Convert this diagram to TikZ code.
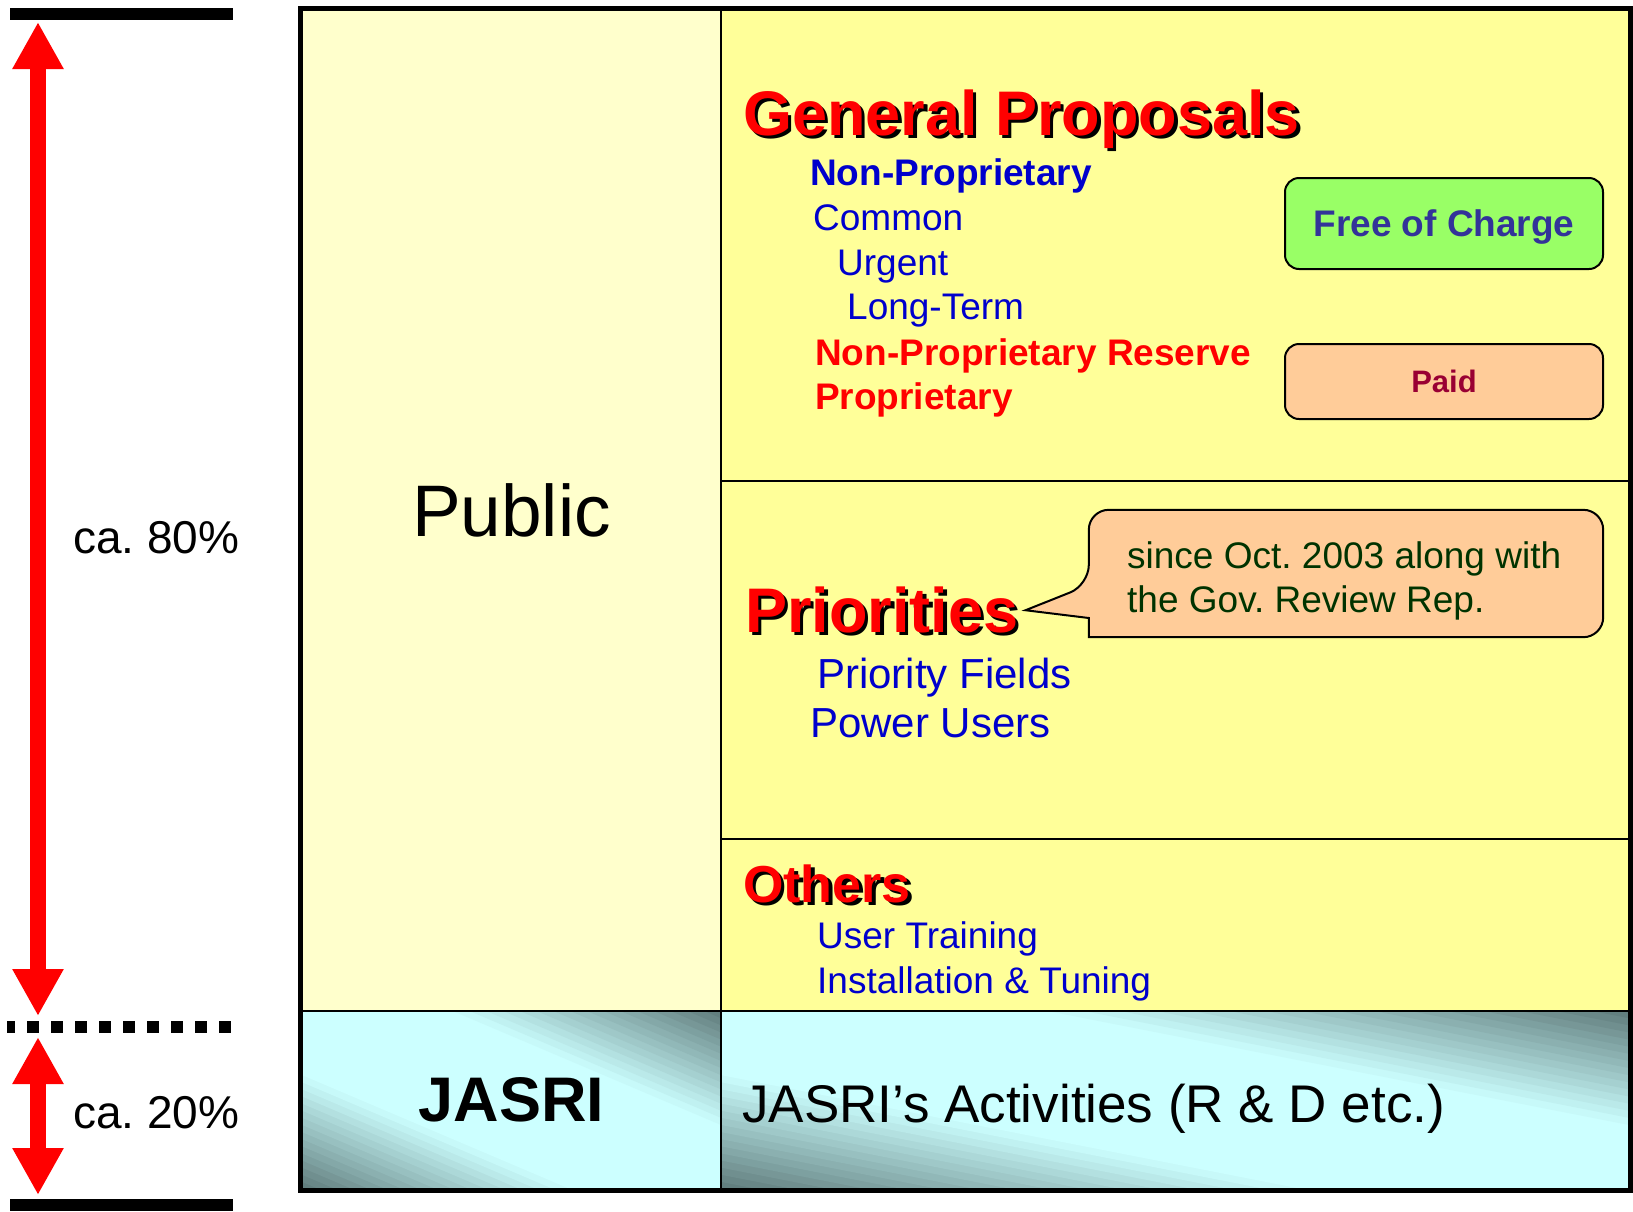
\documentclass[tikz,border=0pt]{standalone}
\usepackage{fontspec}
\setmainfont{Liberation Sans}
\usepackage{xcolor}
\usepackage{tikz}
\usetikzlibrary{arrows.meta, positioning, calc}
\frenchspacing
\definecolor{publicbg}{HTML}{FFFFCC}
\definecolor{userbg}{HTML}{FFFF99}
\definecolor{itemblue}{HTML}{0000CC}
\definecolor{freebg}{HTML}{99FF66}
\definecolor{freetext}{HTML}{333399}
\definecolor{paidbg}{HTML}{FFCC99}
\definecolor{paidtext}{HTML}{990033}
\definecolor{notegreen}{HTML}{003300}
\definecolor{jdark}{HTML}{5F7B7B}
\definecolor{jlight}{HTML}{CCFFFF}
\newcommand{\dropshade}[1]{\makebox[0pt][l]{\hspace{3.5pt}\raisebox{-3.5pt}{\color{black}#1}}#1}
\tikzset{
every node/.style={inner sep=0pt},
fsize/.style={font=\fontsize{#1}{#1}\selectfont},
bfsize/.style={font=\bfseries\fontsize{#1}{#1}\selectfont},
cell/.style={draw=black, line width=2.5, minimum width=#1},
title/.style={anchor=base west, text=red, bfsize=#1},
item/.style={anchor=base west, text=itemblue, fsize=#1},
bitem/.style={anchor=base west, bfsize=37},
tag/.style={draw=black, line width=2, rounded corners=14, minimum width=318, text depth=0pt},
notetxt/.style={anchor=base west, text=notegreen, fsize=37},
callout/.style={draw=black, line width=2, fill=paidbg},
bar/.style={line width=12, black},
share/.style={{Triangle[length=47pt,width=48pt]}-{Triangle[length=47pt,width=48pt]}, red, line width=16},
}

\begin{document}
\begin{tikzpicture}[x=1pt, y=-1pt]
\useasboundingbox (0,0) rectangle (1633,1211);

% table cells
\node[cell=419, minimum height=1001, fill=publicbg, fsize=73] (public) at (511.5,510.5) {Public};
\node[cell=908, minimum height=471, fill=userbg] (general) at (1175,245.5) {};
\node[cell=908, minimum height=358, fill=userbg] (prios) at (1175,660) {};
\node[cell=908, minimum height=172, fill=userbg] (others) at (1175,925) {};
% diagonal gradient of the JASRI row, in strips
\foreach \cx/\w in {511.5/419, 1175/908} {
  \begin{scope}
    \clip (\cx-\w/2,1011) rectangle (\cx+\w/2,1189);
    \foreach \g in {-1.00,-0.96,...,0.97} {
      \pgfmathsetmacro\pct{100*max(0,(abs(\g+0.02)-0.35)/0.65)}
      \fill[jdark!\pct!jlight] ({\cx+\w/2*(2*\g+1.5)},1233.5) -- ({\cx+\w/2*(2*\g-1.5)},966.5)
        -- ({\cx+\w/2*(2*\g-1.4)},966.5) -- ({\cx+\w/2*(2*\g+1.6)},1233.5) -- cycle;
    }
  \end{scope}
}
\node[cell=419, minimum height=178, bfsize=63] (jasri) at (511.5,1100) {JASRI};
\node[cell=908, minimum height=178] (activ) at (1175,1100) {};
\draw[line width=5] (public.north west) rectangle (activ.south east);
\node[anchor=base west, fsize=53] (activtxt) at (742,1122) {JASRI’s Activities (R \& D etc.)};

% general proposals
\node[title=63] (gp) at (743,135) {\dropshade{General Proposals}};
\node[bitem, text=itemblue] (np) at (810,185) {Non-Proprietary};
\node[item=37] (common) at (813,230) {Common};
\node[item=37] (urgent) at (837,275) {Urgent};
\node[item=37] (longterm) at (847,319) {Long-Term};
\node[bitem, text=red] (npr) at (815,365) {Non-Proprietary Reserve};
\node[bitem, text=red] (prop) at (815,409) {Proprietary};
\node[tag, fill=freebg, text=freetext, bfsize=37, minimum height=91] (free) at (1444,223.5) {Free of Charge};
\node[tag, fill=paidbg, text=paidtext, bfsize=31, minimum height=75] (paid) at (1444,381.5) {Paid};

% priorities
\node[title=63] (prio) at (745,632) {\dropshade{Priorities}};
\node[item=42] (fields) at (817,688) {Priority Fields};
\node[item=42] (power) at (810,737) {Power Users};
\node[minimum width=514, minimum height=127] (note) at (1346,573.5) {};
\coordinate (tip) at ($(prio.east)+(7,-1)$);
\draw[callout] (tip) -- ($(note.west)+(0,44.5)$) -- (note.south west) [rounded corners=20] -- (note.south east) -- (note.north east) -- (note.north west) -- ($(note.west)+(0,11.5)$) [sharp corners] -- cycle;
\node[notetxt] (note1) at (1127,568) {since Oct. 2003 along with};
\node[notetxt] (note2) at (1127,612) {the Gov. Review Rep.};

% others
\node[title=52] (oth) at (743,902) {\dropshade{Others}};
\node[item=37] (training) at (817,948) {User Training};
\node[item=37] (tuning) at (817,993) {Installation \& Tuning};

% shares on the left
\draw[bar] (10,14) -- (233,14);
\draw[bar] (10,1205) -- (233,1205);
\draw[bar, dash pattern=on 12 off 12, dash phase=4] (7,1027) -- (232,1027);
\coordinate (top80) at (38,22);
\coordinate (bot80) at (38,1016);
\coordinate (top20) at (38,1037);
\coordinate (bot20) at (38,1195);
\draw[share] (top80) -- (bot80);
\draw[share] (top20) -- (bot20);
\node[anchor=base west, fsize=46] (p80) at (73,553) {ca. 80\%};
\node[anchor=base west, fsize=46] (p20) at (73,1128) {ca. 20\%};
\end{tikzpicture}
\end{document}
